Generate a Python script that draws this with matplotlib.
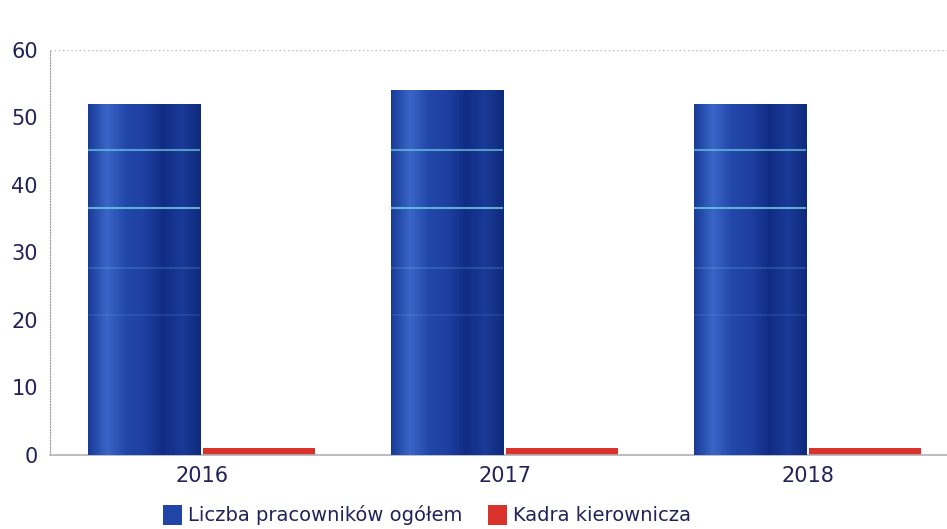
import numpy as np
import matplotlib
matplotlib.use("Agg")
import matplotlib.pyplot as plt
from matplotlib.colors import LinearSegmentedColormap
from matplotlib.patches import Patch

YEARS = ["2016", "2017", "2018"]
TOTAL = [52, 54, 52]
MANAGERS = [1, 1, 1.1]
LABELS = ["Liczba pracowników ogółem", "Kadra kierownicza"]

TEXT = "#22225a"
BLUE = "#2145a6"
RED = "#d9322a"

# pionowy gradient słupków (jak na skanie)
blue_cmap = LinearSegmentedColormap.from_list(
    "bar", ["#183a96", "#3a66c8", "#2247aa", "#1e40a2", "#112c84", "#1a3a98", "#0f2a7a"])

plt.rcParams['font.family'] = ['DejaVu Sans']
fig = plt.figure(figsize=(9.47, 5.29), dpi=100)
ax = fig.add_axes([0.053, 0.14, 0.947, 0.7656])

x = np.arange(len(YEARS))
w = 0.37
blue_bars = ax.bar(x - w / 2 - 0.005, TOTAL, w, color=BLUE, zorder=2)
red_bars = ax.bar(x + w / 2 + 0.005, MANAGERS, w, color=RED, zorder=2)

grad = np.linspace(0, 1, 256).reshape(1, -1)
for b in blue_bars:
    x0, x1 = b.get_x(), b.get_x() + b.get_width()
    im = ax.imshow(grad, cmap=blue_cmap, aspect="auto", extent=(x0, x1, 0, b.get_height()), zorder=3)
    im.set_clip_path(b)
    # jasne paski ze skanu
    for lvl, a in [(45.2, 0.7), (36.6, 0.85), (27.7, 0.2), (20.7, 0.12)]:
        ln = ax.axhline(lvl, color="#6cc4e0", lw=1.5, alpha=a, zorder=4)
        ln.set_clip_path(b)

ax.set_xlim(-0.5, 2.46)
ax.set_ylim(0, 60)
ax.set_yticks(range(0, 61, 10))
ax.set_xticks(x)
ax.set_xticklabels(YEARS)
ax.tick_params(axis="both", length=0, labelsize=15, colors=TEXT, pad=8)
ax.tick_params(axis="y", pad=9)

ax.axhline(60, color="#b8b8c0", lw=1, ls=(0, (1, 2)), zorder=1)
for s in ["top", "right"]:
    ax.spines[s].set_visible(False)
ax.spines["left"].set_color("#9a9aa8")
ax.spines["left"].set_linestyle((0, (1, 1.5)))
ax.spines["bottom"].set_color("#b0b0b8")
ax.spines["bottom"].set_linewidth(1.2)

handles = [Patch(facecolor=BLUE), Patch(facecolor=RED)]
leg = ax.legend(handles, LABELS, loc="upper center", bbox_to_anchor=(0.42, -0.08), ncol=2,
                frameon=False, fontsize=14, handlelength=1.0, handleheight=1.2,
                handletextpad=0.3, columnspacing=1.3)
for t in leg.get_texts():
    t.set_color(TEXT)

fig.savefig("out.png", dpi=100)
